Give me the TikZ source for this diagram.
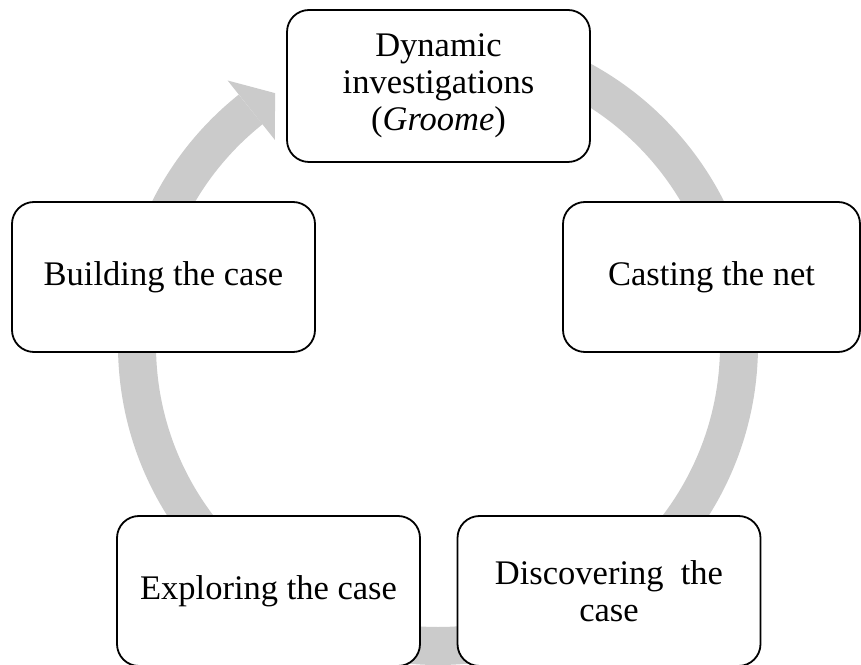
\documentclass[tikz,border=0pt]{standalone}
\usepackage{fontspec}
\setmainfont{Liberation Serif}
\definecolor{ringgray}{HTML}{CBCBCB}
\begin{document}
\begin{tikzpicture}[x=1pt,y=1pt,
  stage/.style={draw=black, line width=1.8pt, rounded corners=22pt, fill=white,
    minimum width=303pt, minimum height=150pt, align=center, inner sep=0pt,
    font=\fontsize{34.5}{37}\selectfont},
  ring/.style={draw=ringgray, line width=38pt}]
\useasboundingbox (0,0) rectangle (861,664);
\clip (0,0) rectangle (861,664);
\coordinate (c) at (438,319);
% circular ring with arrowhead
\draw[ring] ([shift={(c)}]90:301) arc[start angle=90, end angle=-231.5, radius=301];
\fill[ringgray] ([shift={(c)}]128.5:262) -- ([shift={(c)}]122.9:300) -- ([shift={(c)}]128.5:338) -- cycle;
% stages
\node[stage, minimum height=152pt] (top) at (438.5,578) {Dynamic\\investigations\\(\textit{Groome})};
\node[stage, minimum width=297pt] (right) at (711.5,387) {Casting the net};
\node[stage] (left) at (163.5,387) {Building the case};
\node[stage] (bl) at (268.5,73) {Exploring the case};
\node[stage] (br) at (609,73) {Discovering\ \ the\\case};
\end{tikzpicture}
\end{document}
